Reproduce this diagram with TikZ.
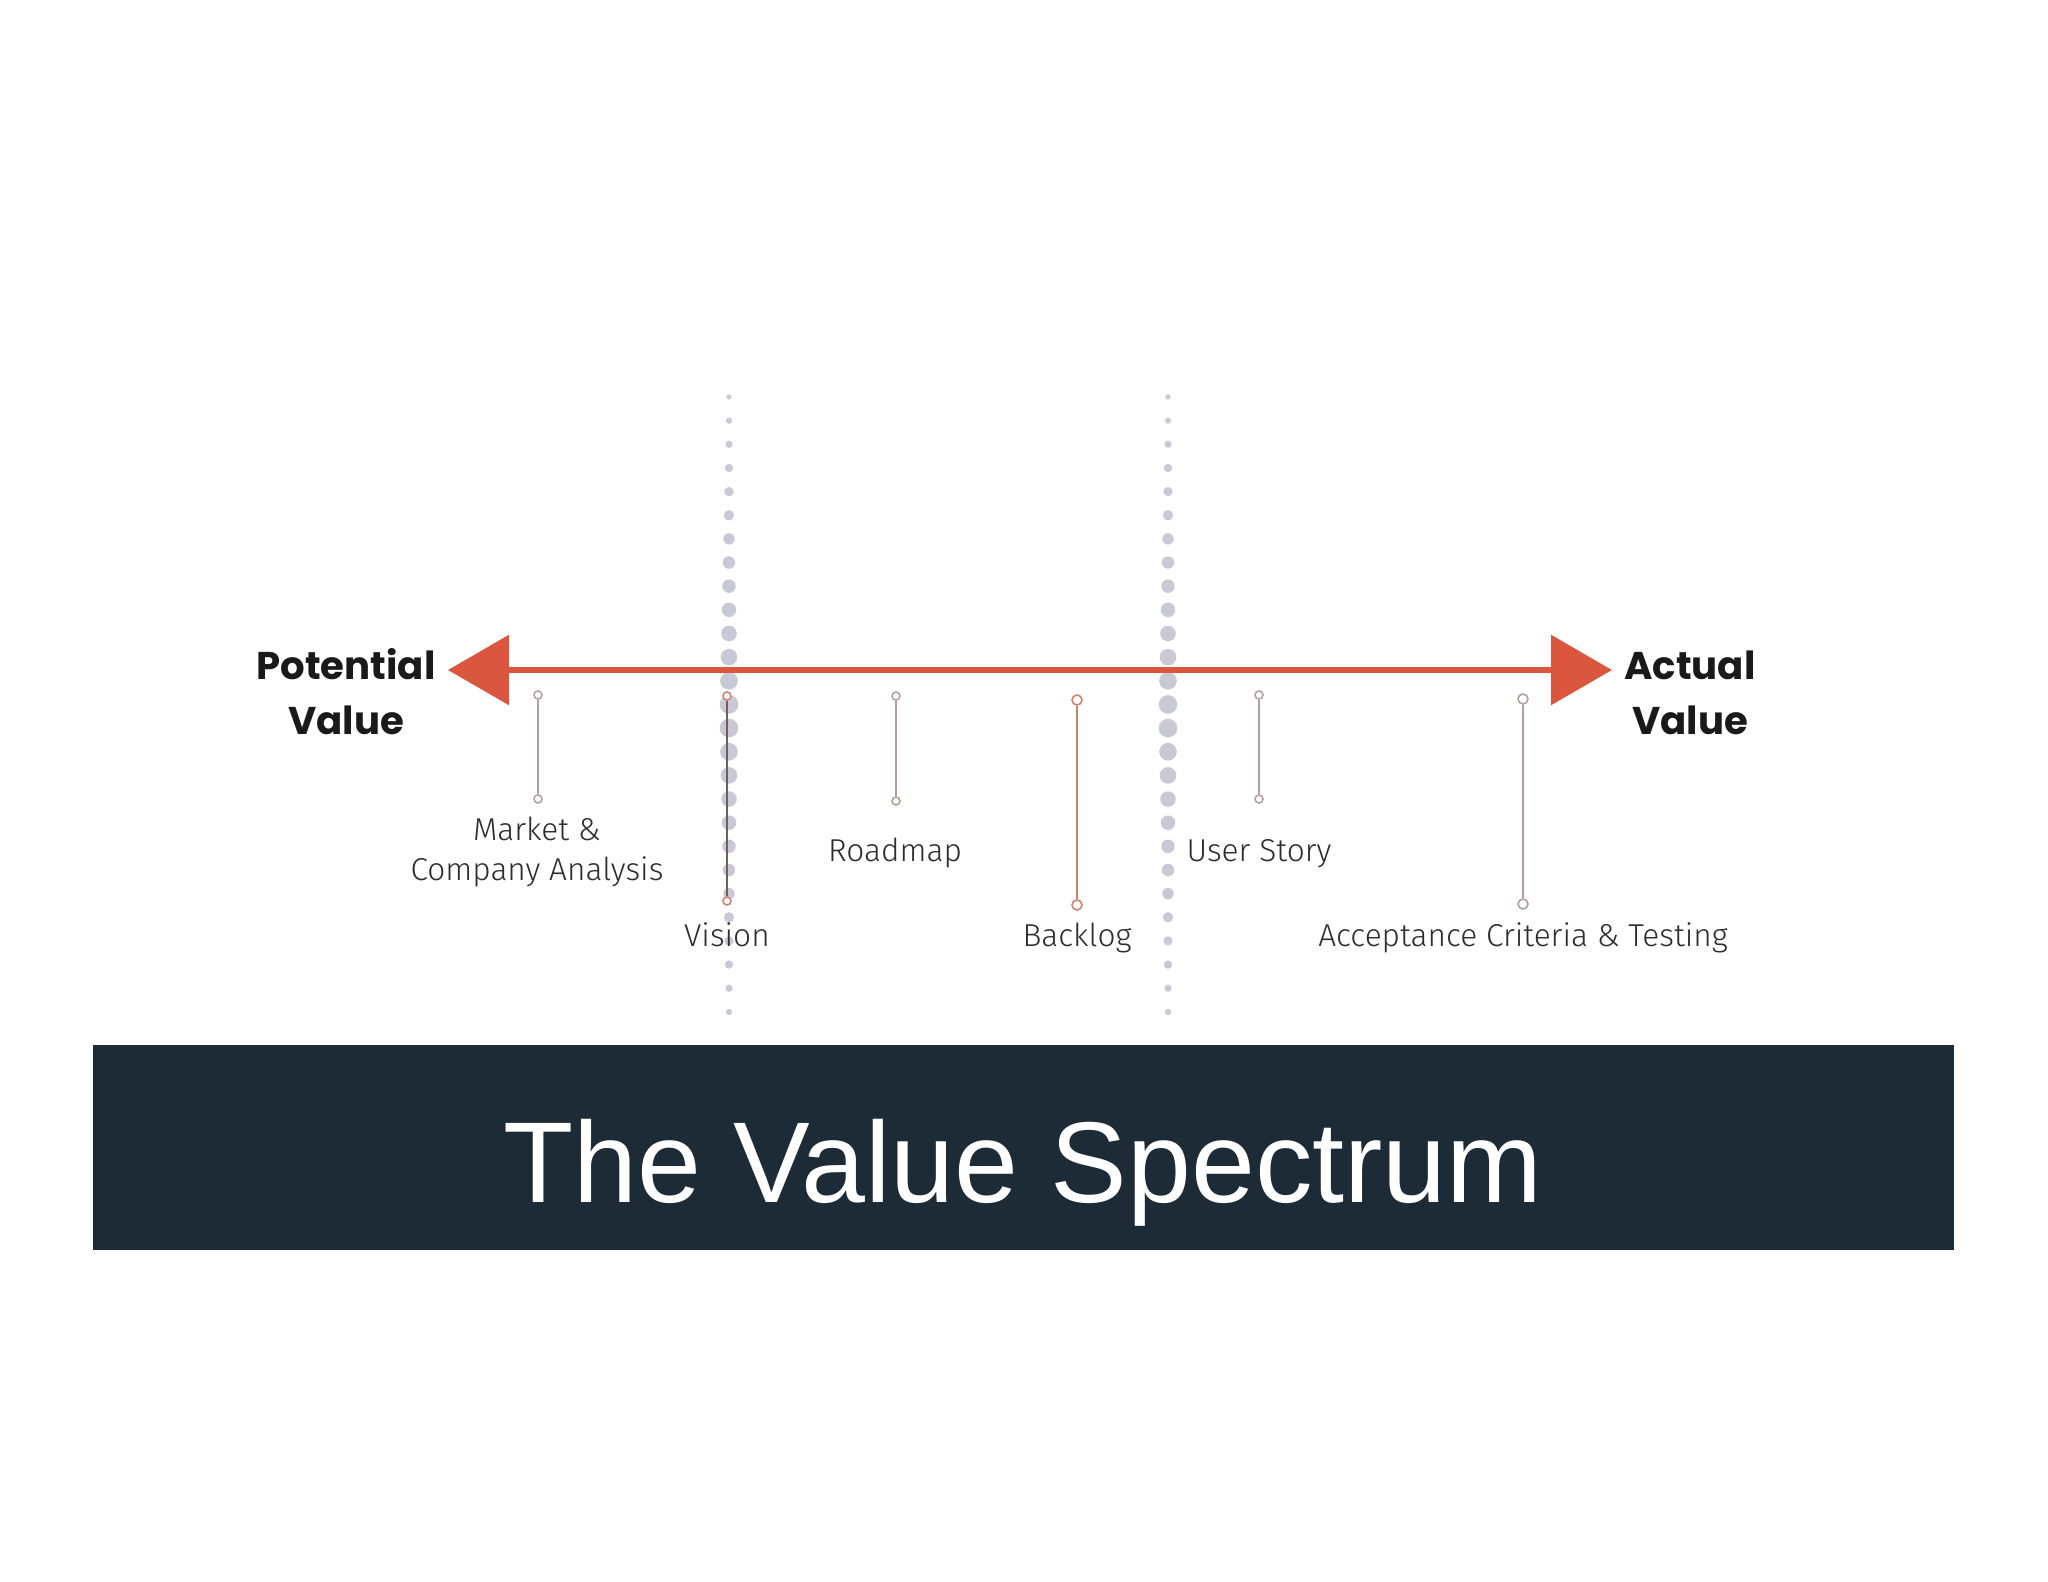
\documentclass[tikz,border=0pt]{standalone}
\usepackage{fontspec}
\setmainfont{Liberation Sans}
\newfontfamily\headfont{Poppins}
\newfontfamily\lblfont{Fira Sans Light}
\usetikzlibrary{positioning,arrows.meta}

\definecolor{arrowred}{RGB}{219,86,63}
\definecolor{dotgrey}{RGB}{200,201,213}
\definecolor{stemgrey}{RGB}{178,160,156}
\definecolor{stemred}{RGB}{212,128,112}
\definecolor{visionink}{RGB}{115,92,92}
\definecolor{bannerblue}{RGB}{28,43,54}
\definecolor{headink}{RGB}{26,26,26}
\definecolor{labelink}{RGB}{45,45,45}

\begin{document}
\begin{tikzpicture}[semithick,
    heading/.style={font=\headfont\bfseries\fontsize{11}{15.6}\selectfont,
      text=headink, align=center, inner sep=0pt},
    stage/.style={font=\lblfont\fontsize{9}{11.4}\selectfont,
      text=labelink, align=center, inner sep=0pt},
    knob/.style={circle, draw=#1, fill=white, inner sep=0pt,
      minimum size=0.08cm, line width=0.45pt},
    knob/.default=stemgrey,
    stem/.style={line width=0.6pt, draw=#1},
    stem/.default=stemgrey,
    spectrum/.style={line width=0.06cm, draw=arrowred,
      {Triangle[length=0.61cm,width=0.69cm,fill=arrowred]}-{Triangle[length=0.61cm,width=0.69cm,fill=arrowred]}},
    banner/.style={rectangle, fill=bannerblue, inner sep=0pt,
      minimum width=18.61cm, minimum height=2.05cm},
    title/.style={font=\fontsize{32.7}{38}\selectfont, text=white, inner sep=0pt}
    ]
    \useasboundingbox[fill=white] (0,0) rectangle (20.48,-15.82);

    % dotted dividers
    \foreach \xc in {7.29,11.68}{
      \foreach \i in {0,...,26}{
        \pgfmathsetmacro\rad{(9.6-7*abs(\i-13.5)/13.5)*0.01}
        \fill[dotgrey] (\xc,{-3.97-0.2365*\i}) circle[radius=\rad];
      }
    }

    % spectrum arrow
    \node[heading] (potential) at (3.46,-6.92) {Potential\\Value};
    \node[heading] (actual) at (16.90,-6.93) {Actual\\Value};
    \coordinate (tipL) at (4.48,-6.70);
    \coordinate (tipR) at (16.12,-6.70);
    \draw[spectrum] (tipL) -- (tipR);

    % stages
    \node[knob] (mktT) at (5.38,-6.95) {};
    \node[knob] (mktB) at (5.38,-7.99) {};
    \draw[stem] (mktT) -- (mktB);
    \node[stage] (mkt) at (5.37,-8.52) {Market \&\\Company Analysis};

    \node[knob=stemred] (visT) at (7.27,-6.96) {};
    \node[knob=stemred] (visB) at (7.27,-9.01) {};
    \draw[stem=visionink] (visT) -- (visB);
    \node[stage, anchor=base] (vision) at (7.27,-9.46) {Vision};

    \node[knob] (rdmT) at (8.96,-6.96) {};
    \node[knob] (rdmB) at (8.96,-8.01) {};
    \draw[stem] (rdmT) -- (rdmB);
    \node[stage, anchor=base] (roadmap) at (8.95,-8.61) {Roadmap};

    \node[knob=stemred, minimum size=0.1cm] (bklT) at (10.77,-7.00) {};
    \node[knob=stemred, minimum size=0.1cm] (bklB) at (10.77,-9.05) {};
    \draw[stem=stemred] (bklT) -- (bklB);
    \node[stage, anchor=base] (backlog) at (10.77,-9.46) {Backlog};

    \node[knob] (usrT) at (12.59,-6.95) {};
    \node[knob] (usrB) at (12.59,-7.99) {};
    \draw[stem] (usrT) -- (usrB);
    \node[stage, anchor=base] (story) at (12.59,-8.61) {User Story};

    \node[knob, minimum size=0.1cm] (accT) at (15.23,-6.99) {};
    \node[knob, minimum size=0.1cm] (accB) at (15.23,-9.04) {};
    \draw[stem] (accT) -- (accB);
    \node[stage, anchor=base] (accept) at (15.23,-9.47) {Acceptance Criteria \& Testing};

    % title band
    \node[banner] (band) at (10.235,-11.475) {};
    \node[title, anchor=base] (heading) at (10.23,-12.02) {The Value Spectrum};
\end{tikzpicture}
\end{document}
